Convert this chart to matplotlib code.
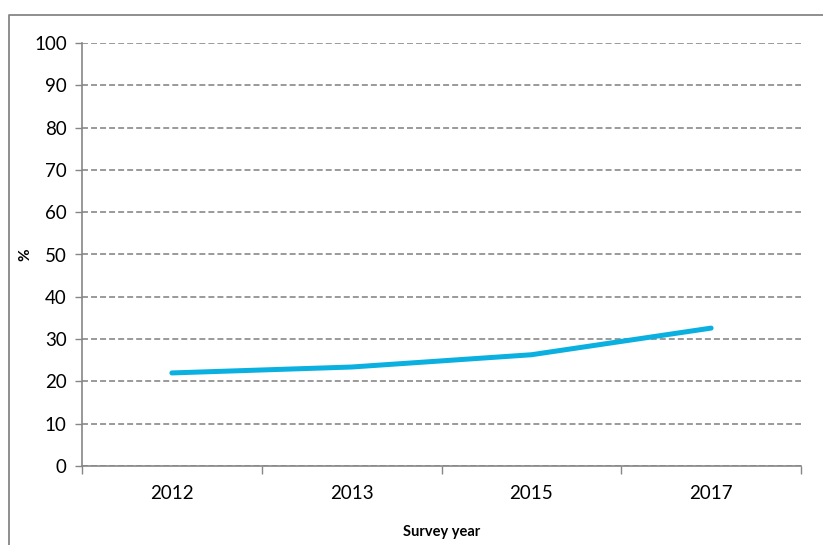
import matplotlib
matplotlib.use('Agg')
import matplotlib.pyplot as plt
from matplotlib.lines import Line2D

years = ['2012', '2013', '2015', '2017']
share = [22.0, 23.4, 26.3, 32.6]
y_ticks = list(range(0, 101, 10))

plt.rcParams['font.family'] = ['Lato', 'DejaVu Sans']
plt.rcParams['lines.scale_dashes'] = False

fig = plt.figure(figsize=(8.23, 5.45), dpi=100)
ax = fig.add_axes([82/823, 1 - 466/545, (801 - 82)/823, (466 - 43)/545])

x = list(range(len(years)))
ax.plot(x, share, color='#0AB0E0', lw=3.6, solid_capstyle='round', zorder=3)

ax.set_xlim(-0.5, len(years) - 0.5)
ax.set_ylim(0, 100)
ax.set_yticks(y_ticks)
ax.tick_params(axis='y', labelsize=13.5, length=5, width=1, color='#868686', pad=6)

# category labels centred, tick marks on the boundaries
ax.set_xticks([i - 0.5 for i in range(len(years) + 1)])
ax.set_xticklabels([])
ax.set_xticks(x, minor=True)
ax.set_xticklabels(years, minor=True)
ax.tick_params(axis='x', which='major', length=6, width=1, color='#868686', direction='out')
ax.tick_params(axis='x', which='minor', length=0, labelsize=13.5, pad=14)

ax.grid(axis='y', color='#7f7f7f', lw=1.1, linestyle=(0, (4.3, 2.2)))
ax.set_axisbelow(True)
for s in ['top', 'right']:
    ax.spines[s].set_visible(False)
for s in ['left', 'bottom']:
    ax.spines[s].set_color('#868686')
    ax.spines[s].set_linewidth(1.2)

ax.set_xlabel('Survey year', fontsize=10.5, fontweight='bold', labelpad=16)
ax.set_ylabel('%', fontsize=11, fontweight='bold', labelpad=1)

# outer chart border (cut off at right and bottom)
fig.add_artist(Line2D([9/823, 9/823, 1.0], [0, 1 - 15/545, 1 - 15/545],
                      transform=fig.transFigure, color='#868686', lw=1.3))

fig.savefig('out.png', dpi=100)
